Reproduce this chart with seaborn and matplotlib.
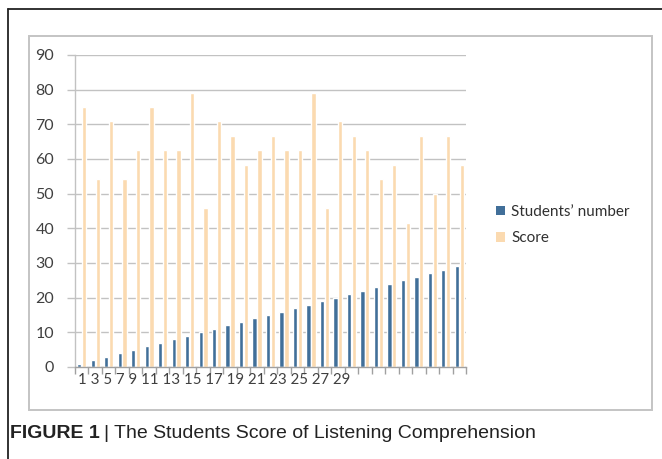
import matplotlib
matplotlib.use("Agg")
import matplotlib.pyplot as plt
from matplotlib.patches import Rectangle
from matplotlib.lines import Line2D
import numpy as np
import pandas as pd
import seaborn as sns

# Data: student index, student number and listening score (out of 24, as %)
students = list(range(1, 30))
students_number = list(range(1, 30))
scores = [75.0, 54.17, 70.83, 54.17, 62.5, 75.0, 62.5, 62.5, 79.17, 45.83,
          70.83, 66.67, 58.33, 62.5, 66.67, 62.5, 62.5, 79.17, 45.83, 70.83,
          66.67, 62.5, 54.17, 58.33, 41.67, 66.67, 50.0, 66.67, 58.33]
series_names = ["Students\u2019 number", "Score"]
x_label_text = "1 3 5 7 9 11 13 15 17 19 21 23 25 27 29"
y_ticks = list(range(0, 91, 10))

BLUE = "#416f99"
PEACH = "#fbdab0"
GRID = "#c2c2c2"
W, H = 662, 459

df = pd.DataFrame({
    "student": students * 2,
    "value": students_number + scores,
    "series": [series_names[0]] * len(students) + [series_names[1]] * len(students),
})

sns.set_theme(style="white")
plt.rcParams["font.family"] = ["Lato", "DejaVu Sans"]

fig = plt.figure(figsize=(W / 100, H / 100), dpi=100)
fig.patch.set_facecolor("white")

# outer black frame (top and left edges)
fig.add_artist(Line2D([8 / W, 1.0], [1 - 9 / H, 1 - 9 / H], color="#222222", lw=1.3,
                      transform=fig.transFigure))
fig.add_artist(Line2D([8 / W, 8 / W], [0.0, 1 - 9 / H], color="#222222", lw=1.3,
                      transform=fig.transFigure))
# chart box
fig.add_artist(Rectangle((29 / W, 1 - 410 / H), (652 - 29) / W, (410 - 36) / H,
                         fill=False, edgecolor="#c4c4c4", lw=1.4,
                         transform=fig.transFigure))

ax = fig.add_axes([75 / W, 1 - 367 / H, (466 - 75) / W, (367 - 55) / H])
sns.barplot(data=df, x="student", y="value", hue="series",
            palette=[BLUE, PEACH], width=0.72, gap=0.12, ax=ax,
            legend=False, saturation=1)

ax.set_xlim(-0.5, len(students) - 0.5)
ax.set_ylim(0, 90)
ax.set_yticks(y_ticks)
ax.set_yticklabels([str(t) for t in y_ticks], fontsize=11.5, color="#404040")
ax.set_xticks([])
ax.set_xticks(np.arange(-0.5, len(students), 1.0), minor=True)
ax.tick_params(axis="x", which="minor", length=5, width=1, color="#a0a0a0",
               direction="out", bottom=True)
ax.tick_params(axis="y", which="major", length=6, width=1, color=GRID,
               direction="out", left=True, pad=9)
ax.set_xlabel("")
ax.set_ylabel("")
ax.yaxis.grid(True, color=GRID, lw=1)
ax.set_axisbelow(True)
for side in ("top", "right"):
    ax.spines[side].set_visible(False)
ax.spines["left"].set_color(GRID)
ax.spines["bottom"].set_color("#a0a0a0")
ax.spines["left"].set_linewidth(1)
ax.spines["bottom"].set_linewidth(1)

# category labels printed as one compact run beneath the axis
fig.text(78 / W, 1 - 380 / H, x_label_text, fontsize=10.8, color="#404040",
         va="center", ha="left")

# legend
handles = [Rectangle((0, 0), 1, 1, facecolor=c, edgecolor="none") for c in (BLUE, PEACH)]
fig.legend(handles, series_names, loc="center left",
           bbox_to_anchor=(482 / W, 1 - 225 / H), frameon=False,
           fontsize=11, handlelength=0.6, handleheight=0.6,
           handletextpad=0.4, labelspacing=0.8, labelcolor="#303030")

# caption: bold figure number followed by the title
cap_y = 1 - 433 / H
bold = fig.text(10 / W, cap_y, "FIGURE 1", fontsize=14, fontweight="bold",
                family="Liberation Sans", color="#222222", va="center", ha="left")
renderer = fig.canvas.get_renderer()
bb = bold.get_window_extent(renderer=renderer)
fig.text((bb.x1 + 4) / W, cap_y, "| The Students Score of Listening Comprehension",
         fontsize=14, family="Liberation Sans", color="#222222",
         va="center", ha="left")

fig.savefig("out.png", dpi=100, facecolor="white")
